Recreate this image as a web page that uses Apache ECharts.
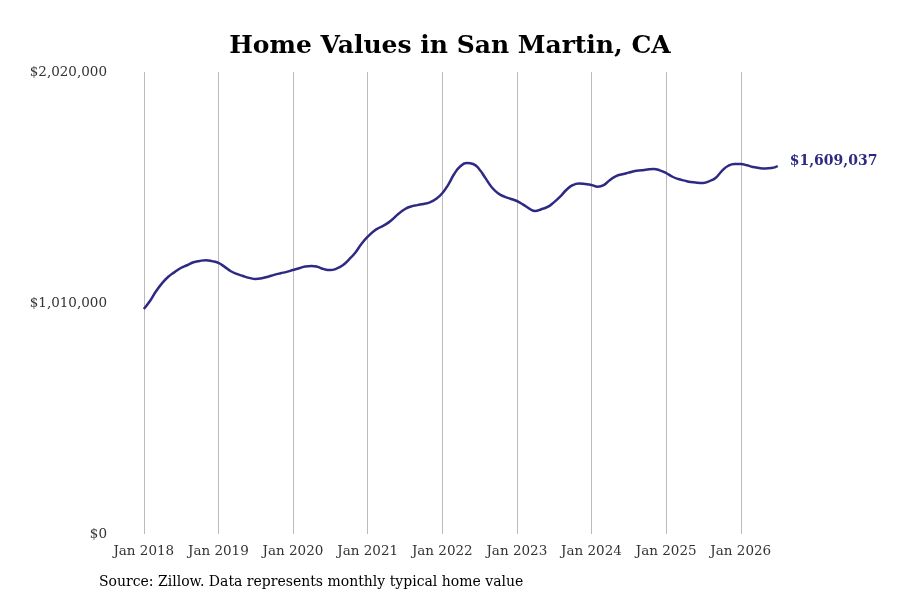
<!DOCTYPE html>
<html><head><meta charset="utf-8">
<script src="https://cdn.jsdelivr.net/npm/echarts@6/dist/echarts.min.js"></script>
<style>html,body{margin:0;padding:0;background:#fff}#c{width:900px;height:600px}</style>
</head><body><div id="c"></div>
<script>
const startYear = 2018;
const values = [
 984,1020,1060,1097,1125,1145,1163,1175,1188,1194,1197,1193,
 1185,1168,1150,1137,1128,1120,1115,1118,1125,1133,1140,1146,
 1154,1162,1170,1172,1168,1158,1154,1160,1175,1200,1230,1268,
 1300,1325,1340,1355,1375,1400,1420,1432,1438,1443,1450,1465,
 1490,1530,1575,1609,1622,1618,1595,1555,1515,1490,1475,1466,
 1456,1440,1424,1412,1420,1430,1450,1475,1505,1525,1532,1530,
 1526,1518,1525,1548,1565,1573,1580,1587,1590,1594,1596,1590,
 1578,1562,1552,1545,1539,1536,1535,1543,1558,1588,1610,1618,
 1618,1612,1605,1600,1598,1600,1609.037
];
const yTicks = [0, 1010000, 2020000];
const data = values.map((v,i)=>{
  const y = startYear + Math.floor(i/12), m = i%12;
  return [Date.UTC(y,m,1), Math.round(v*1000)];
});
const fmt = v => '$' + Math.round(v).toLocaleString('en-US');
const font = 'DejaVu Serif';
const chart = echarts.init(document.getElementById('c'));
chart.setOption({
  animation:false,
  title:{text:'Home Values in San Martin, CA',left:'center',top:29,
    textStyle:{fontFamily:font,fontSize:25,fontWeight:'bold',color:'#000'}},
  graphic:[{type:'text',left:99,top:575,style:{text:'Source: Zillow. Data represents monthly typical home value',
    font:'14px "DejaVu Serif"',fill:'#000'}}],
  grid:{left:125,right:91,top:72,bottom:66},
  xAxis:{type:'time',min:Date.UTC(2017,9,1),max:Date.UTC(2026,11,1),
    minInterval:365*86400000,maxInterval:366*86400000,
    axisLine:{show:false},axisTick:{show:false},
    splitLine:{show:true,showMinLine:false,showMaxLine:false,lineStyle:{color:'#bbb',width:1}},
    axisLabel:{fontFamily:font,fontSize:13.5,color:'#333',margin:10,showMinLabel:false,showMaxLabel:false,
      formatter:v=>'Jan '+new Date(v).getUTCFullYear()}},
  yAxis:{type:'value',min:0,max:2020000,interval:1010000,
    axisLine:{show:false},axisTick:{show:false},splitLine:{show:false},
    axisLabel:{fontFamily:font,fontSize:13.5,color:'#333',margin:18,formatter:fmt}},
  series:[{type:'line',data:data,smooth:true,showSymbol:false,
    lineStyle:{color:'#2e2a84',width:2.5},
    endLabel:{show:true,formatter:p=>fmt(p.value[1]),fontFamily:font,fontSize:14,
      fontWeight:'bold',color:'#2e2a84',distance:12,offset:[0,-5]}}]
});
</script></body></html>
